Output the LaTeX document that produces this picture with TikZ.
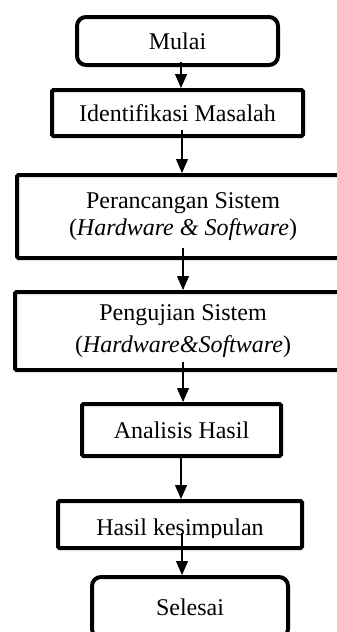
\documentclass[tikz,border=0pt]{standalone}
\usepackage{fontspec}
\setmainfont{Liberation Serif}
\usetikzlibrary{arrows.meta}
\begin{document}
\begin{tikzpicture}[x=1pt,y=-1pt,
  box/.style={draw, line width=4pt, rounded corners=1.5pt, inner sep=0pt, font=\fontsize{24}{28}\selectfont, align=center},
  term/.style={box, rounded corners=9pt},
  lbl/.style={inner sep=0pt, font=\fontsize{24}{28}\selectfont},
  arr/.style={line width=1.2pt, -{Triangle[width=12pt,length=14pt]}}]
\useasboundingbox (0,0) rectangle (337,632);
\clip (0,0) rectangle (337,632);
\node[term, minimum width=201pt, minimum height=48pt] (mulai) at (177.5,41) {Mulai};
\node[box, minimum width=251pt, minimum height=46pt] (ident) at (177.5,113) {Identifikasi Masalah};
\node[box, minimum width=332pt, minimum height=83pt, font=\fontsize{24}{27}\selectfont] (peran) at (183,216.5) {Perancangan Sistem\\(\textit{Hardware \& Software})};
\node[box, minimum width=336pt, minimum height=78pt, font=\fontsize{24}{32}\selectfont] (peng) at (183,331) {Pengujian Sistem\\(\textit{Hardware\&Software})};
\node[box, minimum width=199pt, minimum height=52pt] (anal) at (181.5,430) {Analisis Hasil};
\node[box, minimum width=244pt, minimum height=47pt] (hasil) at (180,524.5) {};
\begin{scope}
\clip (58,501) rectangle (302,537);
\node[lbl] (hasiltxt) at (180,529.4) {Hasil kesimpulan};
\end{scope}
\node[term, minimum width=196pt, minimum height=61pt] (selesai) at (190,607.5) {Selesai};
\draw[arr] ([xshift=3.5pt,yshift=5pt]mulai.south) -- ([xshift=3.5pt]ident.north);
\draw[arr] ([xshift=4.5pt,yshift=8pt]ident.south) -- ([xshift=-1pt]peran.north);
\draw[arr] ([yshift=12pt]peran.south) -- (peng.north);
\draw[arr] ([yshift=10pt]peng.south) -- ([xshift=1.5pt]anal.north);
\draw[arr] ([xshift=-0.5pt]anal.south) -- ([xshift=1pt]hasil.north);
\draw[arr] ([xshift=2pt,yshift=17pt]hasil.south) -- ([xshift=-8pt]selesai.north);
\end{tikzpicture}
\end{document}
